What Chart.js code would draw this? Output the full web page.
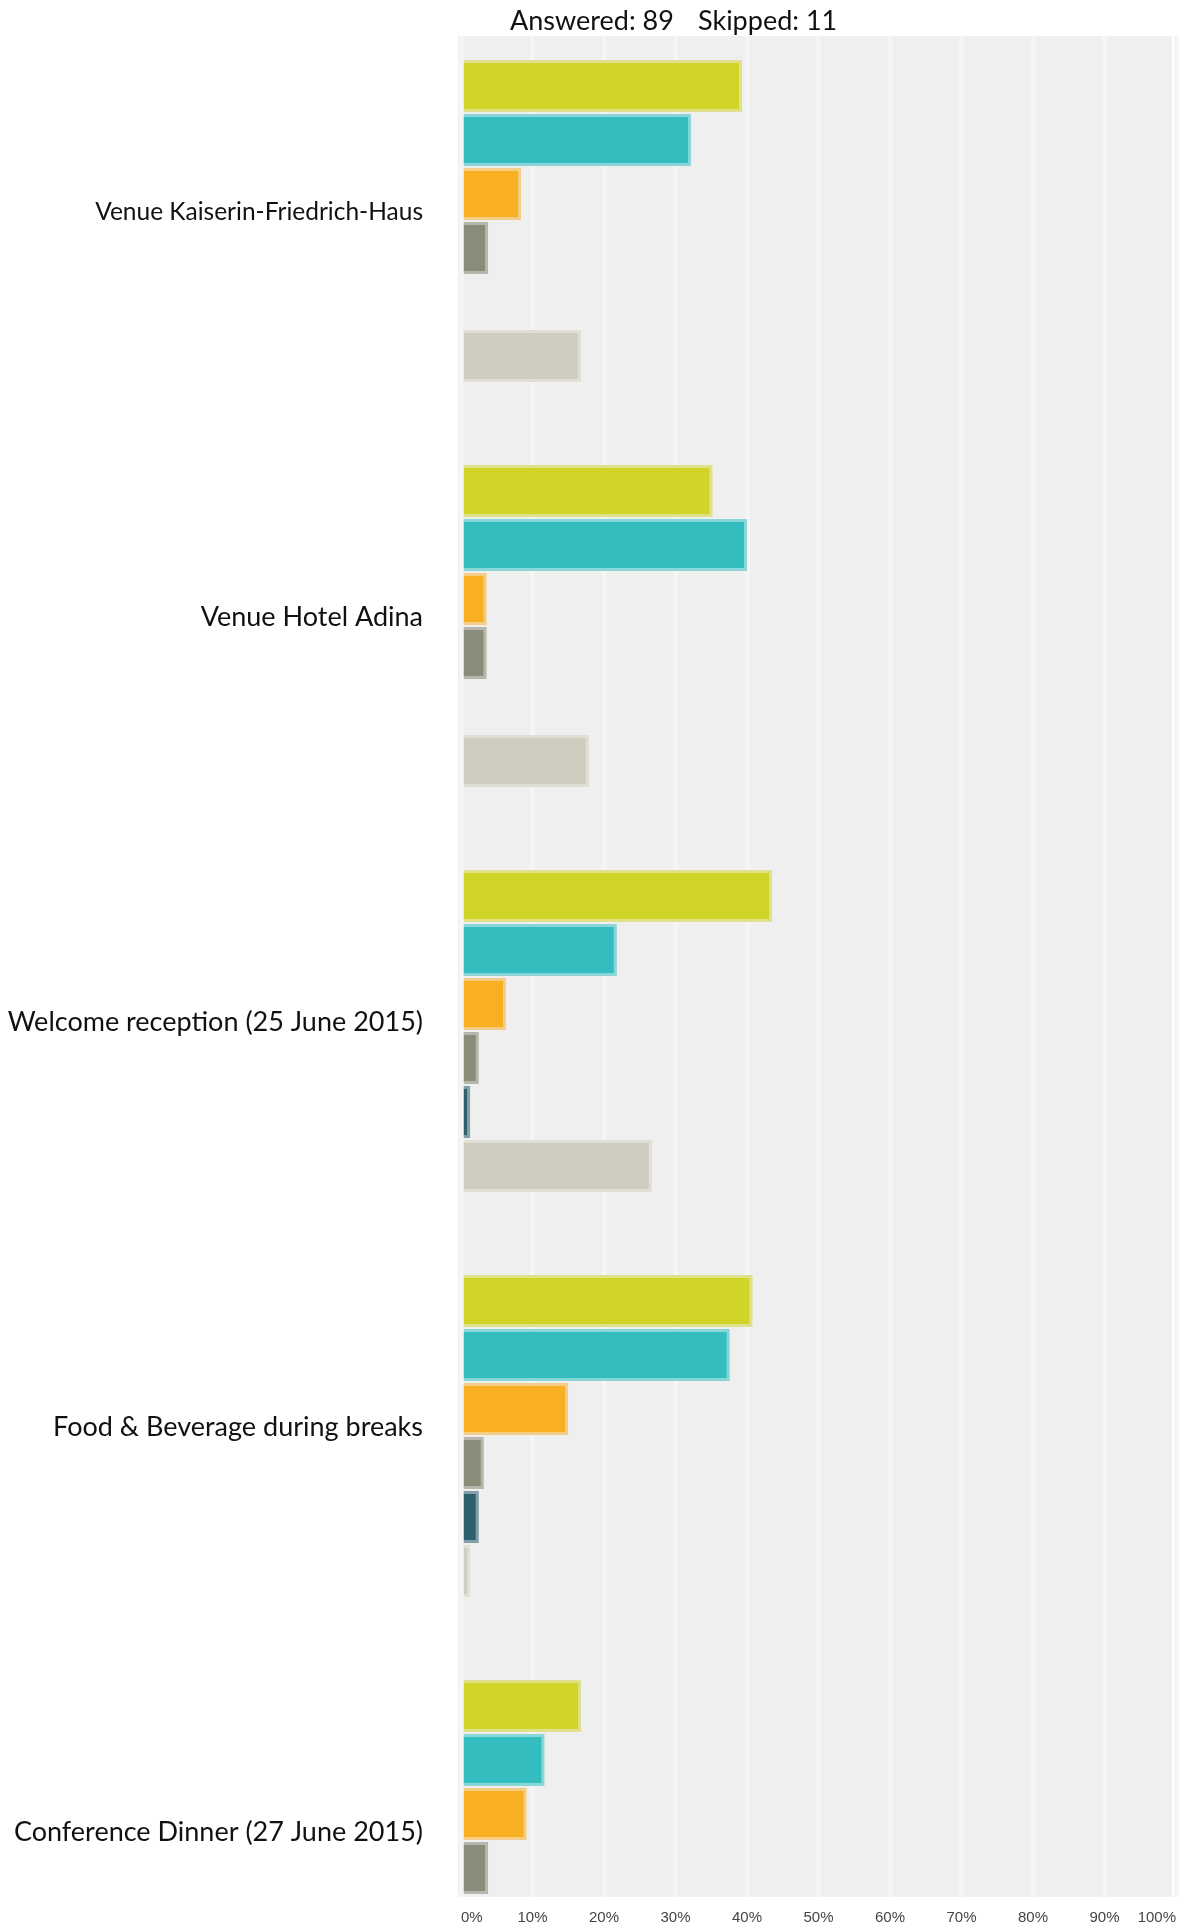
<!DOCTYPE html>
<html>
<head>
<meta charset="utf-8">
<script src="https://cdn.jsdelivr.net/npm/chart.js@4/dist/chart.umd.min.js"></script>
<style>
  html, body { margin: 0; padding: 0; background: #fff; }
  #wrap { width: 1186px; height: 1928px; position: relative; }
</style>
</head>
<body>
<div id="wrap"><canvas id="surveyChart" width="1186" height="1928"></canvas></div>
<script>
// rows of the survey question
const categories = [
  "Venue Kaiserin-Friedrich-Haus",
  "Venue Hotel Adina",
  "Welcome reception (25 June 2015)",
  "Food & Beverage during breaks",
  "Conference Dinner (27 June 2015)"
];

// percent per answer option, one array per series (same order as categories)
const serie1 = [39.3, 35.2, 43.5, 40.8, 16.8];
const serie2 = [32.2, 40.0, 21.8, 37.6, 11.7];
const serie3 = [8.4, 3.6, 6.3, 15.0, 9.2];
const serie4 = [3.8, 3.6, 2.5, 3.2, 3.8];
const serie5 = [0, 0, 1.3, 2.5, 0];
const serie6 = [16.8, 17.9, 26.7, 1.3, 58.5];

const xTicks = [0, 10, 20, 30, 40, 50, 60, 70, 80, 90, 100];

const fills   = ["#d0d528", "#33bdbf", "#f8af21", "#8b8b7a", "#2d5f6d", "#cfcdbf"];
const borders = ["#dfe18c", "#88d6d7", "#f3cd85", "#b6b6ad", "#819fa8", "#e0dfd6"];

const series = [serie1, serie2, serie3, serie4, serie5, serie6];

const bgPlugin = {
  id: 'plotBg',
  beforeDraw(chart) {
    const a = chart.chartArea, ctx = chart.ctx;
    ctx.save();
    ctx.fillStyle = '#efefef';
    ctx.fillRect(a.left - 3, a.top, a.right - a.left - 1, a.bottom - a.top);
    ctx.restore();
  },
  afterDraw(chart) {
    const a = chart.chartArea, ctx = chart.ctx;
    ctx.save();
    ctx.fillStyle = '#111';
    ctx.font = '27px Lato';
    ctx.textBaseline = 'middle';
    ctx.fillText('Answered: 89', a.left + 49, 21);
    ctx.fillText('Skipped: 11', a.left + 237, 21);
    ctx.restore();
  }
};

new Chart(document.getElementById('surveyChart'), {
  type: 'bar',
  data: {
    datasets: series.map((vals, i) => ({
      data: vals.map((v, j) => ({ x: v, y: j })),
      backgroundColor: fills[i],
      borderColor: borders[i],
      borderWidth: 3,
      borderSkipped: 'start',
      categoryPercentage: 0.8,
      barPercentage: 0.963
    }))
  },
  options: {
    indexAxis: 'y',
    responsive: false,
    animation: false,
    devicePixelRatio: 1,
    layout: { padding: { top: 36, right: 10, left: 0, bottom: 0 } },
    plugins: {
      legend: { display: false },
      tooltip: { enabled: false }
    },
    scales: {
      x: {
        type: 'linear',
        position: 'bottom',
        min: 0,
        max: 100,
        afterBuildTicks: s => { s.ticks = xTicks.map(v => ({ value: v })); },
        afterFit: s => { s.height = 31; s.paddingLeft = 0; s.paddingRight = 0; },
        border: { display: false },
        grid: { color: '#f5f5f5', lineWidth: 5, drawTicks: false },
        ticks: {
          align: 'inner',
          padding: 12,
          color: '#444',
          font: { family: 'Liberation Sans', size: 15 },
          callback: v => v + '%'
        }
      },
      y: {
        type: 'linear',
        reverse: true,
        offset: false,
        min: -0.457,
        max: 4.138,
        afterBuildTicks: s => { s.ticks = categories.map((c, i) => ({ value: i - 0.022 })); },
        afterFit: s => { s.width = 461; s.paddingTop = 0; s.paddingBottom = 0; },
        border: { display: false },
        grid: { display: false, drawTicks: false },
        ticks: {
          padding: 38,
          color: '#111',
          font: ctx => ({ family: 'Lato', size: ctx.index === 0 ? 24.5 : 27 }),
          callback: v => categories[Math.round(v)]
        }
      }
    }
  },
  plugins: [bgPlugin]
});
</script>
</body>
</html>
